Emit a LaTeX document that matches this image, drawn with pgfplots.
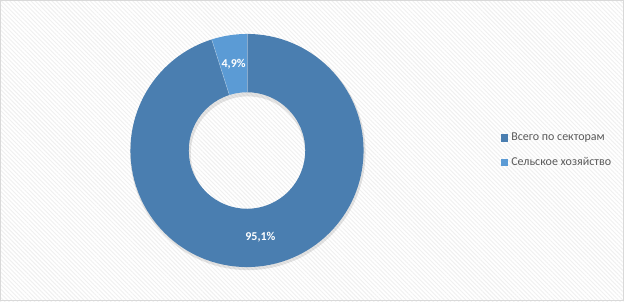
\documentclass[border=0pt]{standalone}
\usepackage{fontspec}
\setmainfont{Carlito}
\usepackage{pgfplots}
\usepackage{pgfplotstable}
\pgfplotsset{compat=1.18}
\usetikzlibrary{patterns.meta}
\definecolor{cA}{HTML}{4A7EB0}
\definecolor{cB}{HTML}{5B9BD5}
\definecolor{legtxt}{HTML}{595959}
\definecolor{bord}{HTML}{D9D9D9}

\pgfplotstableread[col sep=comma]{
label,value
Всего по секторам,95.1
Сельское хозяйство,4.9
}\piedata

\begin{document}
\begin{tikzpicture}
\pgfplotstablegetelem{0}{value}\of\piedata \pgfmathsetmacro\va{\pgfplotsretval}
\pgfplotstablegetelem{1}{value}\of\piedata \pgfmathsetmacro\vb{\pgfplotsretval}
\pgfmathsetmacro\aA{90-3.6*\va}
\pgfmathsetmacro\aB{\aA-3.6*\vb}
\pgfmathsetmacro\mA{(90+\aA)/2}
\pgfmathsetmacro\mB{(\aA+\aB)/2}
\def\Ro{87.4pt}
\def\Ri{43.7pt}
\def\Rm{65.5pt}
\begin{axis}[
  x=0.75pt, y=0.75pt, xmin=0, xmax=624, ymin=0, ymax=301,
  hide axis, scale only axis, clip=false,
  legend style={at={(axis cs:497,151)}, anchor=west, draw=none, fill=none,
    font=\fontsize{9}{11}\selectfont, text=legtxt, row sep=6pt,
    nodes={inner sep=2.5pt}},
  legend cell align=left,
  legend image code/.code={\fill[#1] (0pt,-2.4pt) rectangle (4.6pt,2.4pt);},
]
\fill[white] (axis cs:0,0) rectangle (axis cs:624,301);
\fill[pattern={Lines[angle=-45,distance=2.25pt,line width=0.7pt]}, pattern color=black!6] (axis cs:0,0) rectangle (axis cs:624,301);
\draw[bord, line width=0.75pt] (axis cs:0.5,0.5) rectangle (axis cs:623.5,300.5);
\coordinate (C) at (axis cs:247,150.5);
% shadow
\fill[black, opacity=0.10, even odd rule] ([shift={(0.6pt,-1.4pt)}]C) circle[radius=88.3pt] ([shift={(0.6pt,-2.2pt)}]C) circle[radius=42.8pt];
% slice A
\fill[cA] ([shift={(90:\Ro)}]C) arc[start angle=90, end angle=\aA, radius=\Ro]
  -- ([shift={(\aA:\Ri)}]C) arc[start angle=\aA, end angle=90, radius=\Ri] -- cycle;
% slice B
\fill[cB] ([shift={(\aA:\Ro)}]C) arc[start angle=\aA, end angle=\aB, radius=\Ro]
  -- ([shift={(\aB:\Ri)}]C) arc[start angle=\aB, end angle=\aA, radius=\Ri] -- cycle;
\draw[white, opacity=0.35, line width=0.4pt] ([shift={(\aA:\Ri)}]C) -- ([shift={(\aA:\Ro)}]C);
\draw[white, opacity=0.35, line width=0.4pt] ([shift={(90:\Ri)}]C) -- ([shift={(90:\Ro)}]C);
\node[white, font=\bfseries\fontsize{9}{11}\selectfont, inner sep=0pt] at ([shift={(\mA:\Rm)}]C) {95,1\%};
\node[white, font=\bfseries\fontsize{9}{11}\selectfont, inner sep=0pt] at ([shift={(\mB:\Rm)}]C) {4,9\%};
\addlegendimage{cA, fill=cA}
\addlegendentry{Всего по секторам}
\addlegendimage{cB, fill=cB}
\addlegendentry{Сельское хозяйство}
\end{axis}
\end{tikzpicture}
\end{document}
